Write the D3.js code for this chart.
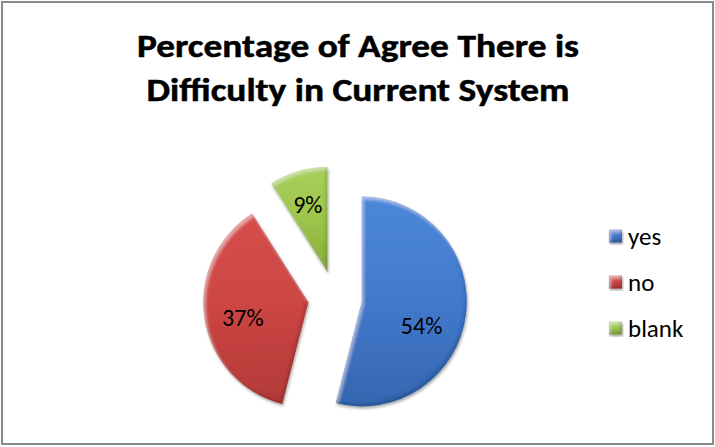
<!DOCTYPE html>
<html>
<head>
<meta charset="utf-8">
<script src="https://cdn.jsdelivr.net/npm/d3@7"></script>
<style>
  html, body { margin: 0; padding: 0; background: #fff; }
  svg { display: block; }
  text { font-family: Carlito, Calibri, Lato, "Open Sans", sans-serif; fill: #000; }
</style>
</head>
<body>
<svg id="chart" width="715" height="447"></svg>
<script>
const titleLines = ["Percentage of Agree There is", "Difficulty in Current System"];
const categories = ["yes", "no", "blank"];
const values = [54, 37, 9];
const labels = ["54%", "37%", "9%"];
const lightColors = ["#4c88da", "#d64f4d", "#a9cf5a"];
const baseColors = ["#4279cc", "#cb4543", "#9cc44b"];
const darkColors = ["#3566b0", "#b33a39", "#86ab3a"];

const W = 715, H = 447;
const svg = d3.select("#chart");
const defs = svg.append("defs");

// frame
svg.append("rect").attr("x", 2).attr("y", 2).attr("width", 711).attr("height", 442)
  .attr("fill", "#fff").attr("stroke", "#8a8a8a").attr("stroke-width", 2);

// title
const title = svg.append("text").attr("text-anchor", "middle").attr("font-weight", "bold")
  .attr("font-size", 32);
const titleWidths = [442, 423];
titleLines.forEach((t, i) => {
  title.append("tspan").attr("x", 358).attr("y", 57 + i * 44).text(t)
    .attr("textLength", titleWidths[i]).attr("lengthAdjust", "spacingAndGlyphs")
    .attr("stroke", "#000").attr("stroke-width", 0.5);
});

// gradients
categories.forEach((c, i) => {
  const g = defs.append("linearGradient").attr("id", "grad" + i)
    .attr("x1", 0).attr("y1", 0).attr("x2", 0).attr("y2", 1);
  g.append("stop").attr("offset", "0%").attr("stop-color", lightColors[i]);
  g.append("stop").attr("offset", "50%").attr("stop-color", baseColors[i]);
  g.append("stop").attr("offset", "100%").attr("stop-color", darkColors[i]);
});

// bevel filter: light band on upper edges, dark band on lower edges, soft drop shadow
const f = defs.append("filter").attr("id", "bevel").attr("x", "-10%").attr("y", "-10%")
  .attr("width", "125%").attr("height", "125%");
f.append("feGaussianBlur").attr("in", "SourceAlpha").attr("stdDeviation", 1.6).attr("result", "blur");
f.append("feOffset").attr("in", "blur").attr("dx", 2).attr("dy", 3).attr("result", "offDR");
f.append("feOffset").attr("in", "blur").attr("dx", -2).attr("dy", -3).attr("result", "offUL");
f.append("feComposite").attr("in", "SourceAlpha").attr("in2", "offDR").attr("operator", "arithmetic")
  .attr("k1", 0).attr("k2", 1).attr("k3", -1).attr("k4", 0).attr("result", "hlBand");
f.append("feComposite").attr("in", "SourceAlpha").attr("in2", "offUL").attr("operator", "arithmetic")
  .attr("k1", 0).attr("k2", 1).attr("k3", -1).attr("k4", 0).attr("result", "shBand");
f.append("feFlood").attr("flood-color", "#ffffff").attr("flood-opacity", 0.35).attr("result", "white");
f.append("feComposite").attr("in", "white").attr("in2", "hlBand").attr("operator", "in").attr("result", "hl");
f.append("feFlood").attr("flood-color", "#000000").attr("flood-opacity", 0.28).attr("result", "black");
f.append("feComposite").attr("in", "black").attr("in2", "shBand").attr("operator", "in").attr("result", "sh");
f.append("feGaussianBlur").attr("in", "SourceAlpha").attr("stdDeviation", 1.8).attr("result", "sb");
f.append("feOffset").attr("in", "sb").attr("dx", 1).attr("dy", 2).attr("result", "so");
f.append("feComponentTransfer").attr("in", "so").attr("result", "drop")
  .append("feFuncA").attr("type", "linear").attr("slope", 0.35);
const m = f.append("feMerge");
m.append("feMergeNode").attr("in", "drop");
m.append("feMergeNode").attr("in", "SourceGraphic");
m.append("feMergeNode").attr("in", "hl");
m.append("feMergeNode").attr("in", "sh");

// pie
const cx = 335, cy = 298, r = 105, explode = 27;
const pie = d3.pie().sort(null).value(d => d.v);
const arcs = pie(categories.map((c, i) => ({ c, v: values[i], i })));
const arc = d3.arc().innerRadius(0).outerRadius(r);
const labelArc = d3.arc().innerRadius(r * 0.67).outerRadius(r * 0.67);

const g = svg.append("g").attr("transform", `translate(${cx},${cy})`);
const slices = g.selectAll("g.slice").data(arcs).enter().append("g").attr("class", "slice")
  .attr("transform", d => {
    const a = (d.startAngle + d.endAngle) / 2;
    return `translate(${Math.sin(a) * explode},${-Math.cos(a) * explode})`;
  });
slices.append("path").attr("d", arc).attr("fill", d => `url(#grad${d.data.i})`)
  .attr("filter", "url(#bevel)");
// best-fit label nudge for the large slice
const labelNudge = [[-10, 15], [4, 4], [0, 0]];
slices.append("text").attr("text-anchor", "middle").attr("dominant-baseline", "central")
  .attr("font-size", 24)
  .attr("transform", d => {
    const p = labelArc.centroid(d), n = labelNudge[d.data.i];
    return `translate(${p[0] + n[0]},${p[1] + n[1]})`;
  })
  .text(d => labels[d.data.i]);

// legend
const lg = svg.append("g").attr("transform", "translate(609,236)");
const items = lg.selectAll("g").data(categories).enter().append("g")
  .attr("transform", (d, i) => `translate(0,${i * 46})`);
items.append("rect").attr("x", 0).attr("y", -6.5).attr("width", 13).attr("height", 13)
  .attr("fill", (d, i) => `url(#grad${i})`).attr("filter", "url(#bevel)");
items.append("text").attr("x", 19).attr("y", 0).attr("dominant-baseline", "central")
  .attr("font-size", 25).text(d => d);
</script>
</body>
</html>
